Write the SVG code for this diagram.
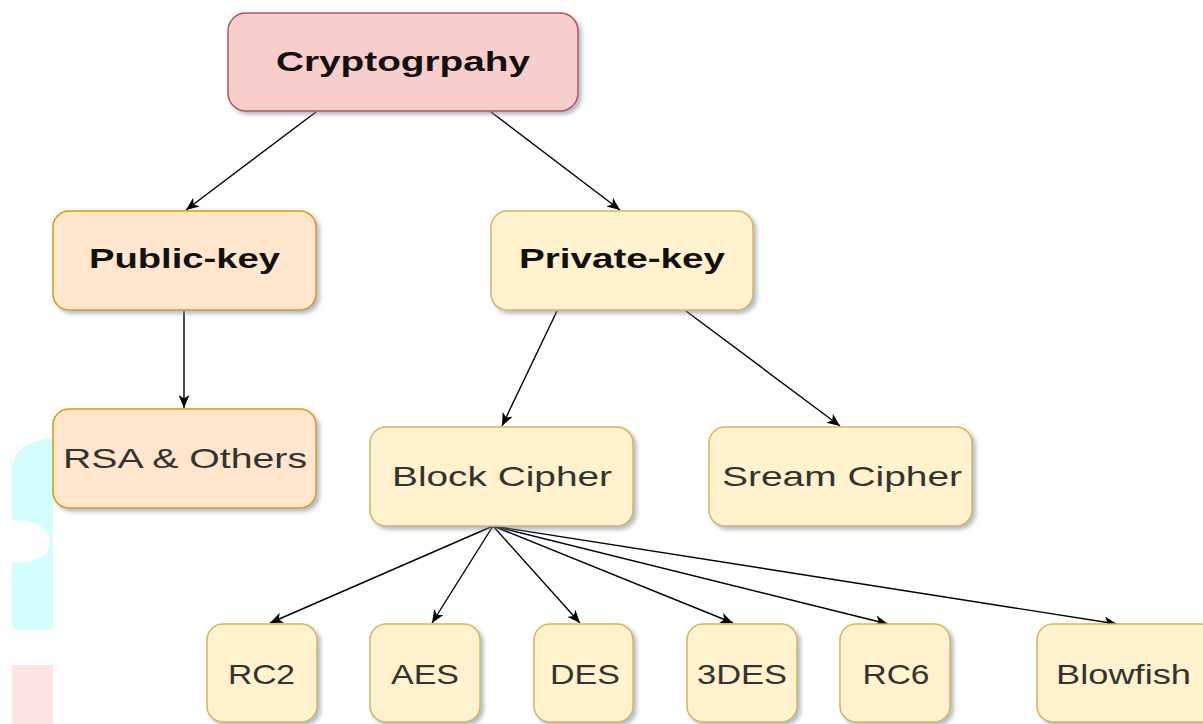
<svg xmlns="http://www.w3.org/2000/svg" width="1203" height="724" viewBox="0 0 1203 724">
  <defs>
    <filter id="shadow" x="-10%" y="-10%" width="125%" height="130%">
      <feDropShadow dx="3" dy="3" stdDeviation="2" flood-color="#7f8aa8" flood-opacity="0.6"/>
    </filter>
    <marker id="arrow" markerUnits="userSpaceOnUse" markerWidth="14" markerHeight="11" refX="13" refY="5.5" orient="auto">
      <path d="M0,0 L13,5.5 L0,11 L3.5,5.5 Z" fill="#000"/>
    </marker>
    <style>
      .box { stroke-width: 1.5; filter: url(#shadow); }
      .root { fill: #f8cecc; stroke: #b85450; }
      .pub { fill: #ffe6cc; stroke: #d79b00; }
      .priv { fill: #fff2cc; stroke: #d6b656; }
      .lbl { font-family: "Liberation Sans", Arial, sans-serif; text-anchor: middle; fill: #333333; font-size: 28px; }
      .bold { font-weight: bold; fill: #111111; }
      .edge { fill: none; stroke: #000; stroke-width: 1.4; marker-end: url(#arrow); }
    </style>
  </defs>

  <rect width="1203" height="724" fill="#ffffff"/>

  <!-- partial shapes at the left margin -->
  <path d="M53,438 C30,440 12,450 12,470 L12,520 C38,520 50,530 50,542 C50,554 40,563 12,563 L12,624 Q12,630 18,630 L53,630 Z" fill="#d4fdfd"/>
  <rect x="12" y="665" width="41" height="59" fill="#fde4e4"/>

  <!-- connectors -->
  <g id="connectors">
    <line class="edge" x1="316" y1="112" x2="186" y2="210"/>
    <line class="edge" x1="491" y1="112" x2="620" y2="210"/>
    <line class="edge" x1="184" y1="311" x2="184" y2="408"/>
    <line class="edge" x1="557" y1="311" x2="502" y2="426"/>
    <line class="edge" x1="686" y1="311" x2="840" y2="426"/>
    <line class="edge" x1="493" y1="526" x2="270" y2="623"/>
    <line class="edge" x1="493" y1="526" x2="432" y2="623"/>
    <line class="edge" x1="493" y1="526" x2="580" y2="623"/>
    <line class="edge" x1="493" y1="526" x2="733" y2="623"/>
    <line class="edge" x1="493" y1="526" x2="888" y2="624"/>
    <line class="edge" x1="493" y1="526" x2="1117" y2="624"/>
  </g>

  <g id="cryptography">
    <rect class="box root" x="228" y="13" width="350" height="98" rx="18"/>
    <text class="lbl bold" x="403" y="71" font-size="27" textLength="254" lengthAdjust="spacingAndGlyphs">Cryptogrpahy</text>
  </g>

  <g id="public-key">
    <rect class="box pub" x="53" y="211" width="263" height="99" rx="16"/>
    <text class="lbl bold" x="184.5" y="268" font-size="25" textLength="191" lengthAdjust="spacingAndGlyphs">Public-key</text>
  </g>

  <g id="private-key">
    <rect class="box priv" x="491" y="211" width="262" height="99" rx="16"/>
    <text class="lbl bold" x="622" y="268" font-size="25" textLength="206" lengthAdjust="spacingAndGlyphs">Private-key</text>
  </g>

  <g id="rsa">
    <rect class="box pub" x="53" y="409" width="263" height="99" rx="16"/>
    <text class="lbl" x="185" y="468" textLength="244" lengthAdjust="spacingAndGlyphs">RSA &amp; Others</text>
  </g>

  <g id="block-cipher">
    <rect class="box priv" x="370" y="427" width="263" height="99" rx="16"/>
    <text class="lbl" x="502" y="486" textLength="220" lengthAdjust="spacingAndGlyphs">Block Cipher</text>
  </g>

  <g id="stream-cipher">
    <rect class="box priv" x="709" y="427" width="263" height="99" rx="16"/>
    <text class="lbl" x="842" y="486" textLength="240" lengthAdjust="spacingAndGlyphs">Sream Cipher</text>
  </g>

  <g id="rc2">
    <rect class="box priv" x="207" y="624" width="110" height="98" rx="16"/>
    <text class="lbl" x="261.5" y="684" textLength="67" lengthAdjust="spacingAndGlyphs">RC2</text>
  </g>

  <g id="aes">
    <rect class="box priv" x="370" y="624" width="110" height="98" rx="16"/>
    <text class="lbl" x="425" y="684" textLength="68" lengthAdjust="spacingAndGlyphs">AES</text>
  </g>

  <g id="des">
    <rect class="box priv" x="534" y="624" width="99" height="98" rx="16"/>
    <text class="lbl" x="585" y="684" textLength="70" lengthAdjust="spacingAndGlyphs">DES</text>
  </g>

  <g id="3des">
    <rect class="box priv" x="687" y="624" width="110" height="98" rx="16"/>
    <text class="lbl" x="742" y="684" textLength="90" lengthAdjust="spacingAndGlyphs">3DES</text>
  </g>

  <g id="rc6">
    <rect class="box priv" x="840" y="624" width="110" height="98" rx="16"/>
    <text class="lbl" x="896" y="684" textLength="67" lengthAdjust="spacingAndGlyphs">RC6</text>
  </g>

  <g id="blowfish">
    <rect class="box priv" x="1037" y="624" width="180" height="98" rx="16"/>
    <text class="lbl" x="1123.5" y="684" textLength="135" lengthAdjust="spacingAndGlyphs">Blowfish</text>
  </g>
</svg>
